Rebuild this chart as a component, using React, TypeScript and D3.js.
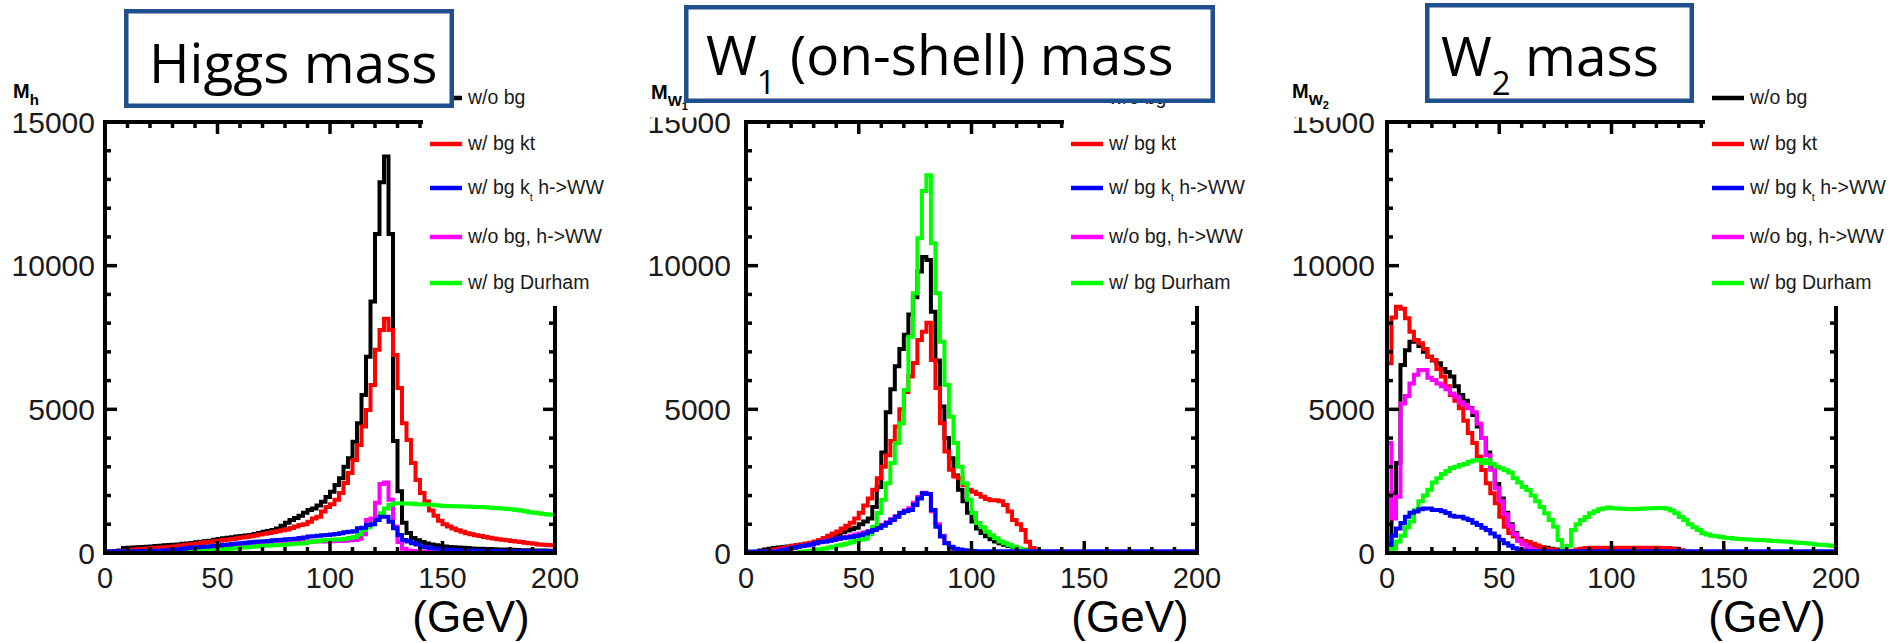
import React from 'react';
import * as d3 from 'd3';

// ---------- data (2 GeV bins from 0 to 200 GeV) ----------
const BIN_WIDTH = 2;
const massTicks = [0, 50, 100, 150, 200];
const countTicks = [0, 5000, 10000, 15000];
const legendLabels = ['w/o bg', 'w/ bg kt', 'w/ bg k_t h->WW', 'w/o bg, h->WW', 'w/ bg Durham'];
const seriesColors = ['#000000', '#ff0000', '#0000ff', '#ff00ff', '#00ff00'];
const panelTitles = ['Higgs mass', 'W_1 (on-shell) mass', 'W_2 mass'];
const axisTitles = ['M_h', 'M_W1', 'M_W2'];
const unitLabel = '(GeV)';

// Higgs mass
const higgsNoBg = [
  20, 40, 60, 90, 170, 180, 190, 200, 210, 220,
  230, 240, 250, 270, 280, 290, 300, 320, 330, 350,
  370, 390, 410, 430, 460, 490, 510, 530, 550, 570,
  590, 610, 630, 660, 700, 740, 770, 800, 850, 950,
  1050, 1150, 1220, 1300, 1400, 1500, 1550, 1650, 1780, 1950,
  2130, 2370, 2600, 3000, 3300, 3875, 4515, 5500, 6830, 8750,
  11100, 12900, 13800, 11100, 3900, 2150, 1050, 700, 520, 440,
  380, 330, 300, 270, 250, 230, 210, 200, 190, 180,
  170, 160, 150, 145, 140, 135, 130, 125, 120, 115,
  110, 105, 100, 100, 95, 90, 90, 85, 80, 80,
];
const higgsKt = [
  10, 20, 40, 60, 80, 100, 120, 130, 145, 160,
  170, 180, 190, 200, 215, 230, 250, 270, 290, 310,
  330, 350, 370, 390, 410, 430, 450, 470, 490, 515,
  540, 560, 580, 610, 640, 670, 700, 730, 760, 790,
  820, 870, 920, 975, 1000, 1090, 1200, 1260, 1440, 1600,
  1700, 1850, 2090, 2440, 2780, 3240, 3760, 4400, 4980, 5850,
  7070, 7760, 8150, 7760, 6890, 5740, 4520, 3930, 3130, 2540,
  2090, 1790, 1480, 1300, 1120, 1000, 920, 850, 790, 740,
  690, 650, 620, 590, 560, 530, 505, 480, 460, 440,
  420, 400, 380, 360, 340, 320, 300, 290, 280, 270,
];
const higgsKtWW = [
  60, 60, 60, 60, 60, 60, 65, 65, 70, 70,
  75, 80, 85, 90, 100, 110, 130, 150, 170, 190,
  200, 210, 220, 235, 250, 260, 280, 300, 310, 330,
  340, 360, 370, 390, 400, 410, 420, 440, 450, 460,
  480, 490, 500, 520, 540, 570, 580, 600, 620, 630,
  640, 660, 690, 720, 740, 760, 860, 880, 975, 1000,
  1150, 1260, 1260, 1090, 860, 630, 450, 400, 340, 300,
  220, 200, 170, 160, 150, 120, 110, 100, 95, 90,
  85, 80, 80, 75, 75, 70, 70, 70, 65, 65,
  65, 60, 60, 60, 60, 60, 60, 60, 60, 60,
];
const higgsNoBgWW = [
  0, 0, 0, 0, 0, 0, 0, 0, 0, 0,
  10, 20, 40, 60, 80, 100, 110, 120, 130, 140,
  150, 160, 170, 180, 190, 200, 210, 220, 230, 240,
  250, 260, 270, 280, 290, 300, 310, 320, 330, 340,
  350, 360, 370, 380, 380, 390, 400, 400, 400, 410,
  410, 420, 420, 430, 440, 450, 500, 650, 1150, 1200,
  1750, 2400, 2450, 1850, 920, 380, 150, 90, 70, 60,
  50, 40, 30, 25, 20, 15, 10, 5, 0, 0,
  0, 0, 0, 0, 0, 0, 0, 0, 0, 0,
  0, 0, 0, 0, 0, 0, 0, 0, 0, 0,
];
const higgsDurham = [
  0, 0, 0, 0, 0, 0, 0, 0, 0, 0,
  0, 0, 0, 0, 0, 0, 0, 10, 20, 40,
  60, 80, 100, 110, 120, 130, 140, 150, 160, 180,
  190, 200, 220, 230, 240, 250, 260, 270, 280, 290,
  300, 310, 320, 330, 350, 380, 400, 420, 440, 450,
  460, 470, 480, 500, 520, 560, 650, 800, 900, 1000,
  1150, 1380, 1550, 1680, 1730, 1730, 1720, 1720, 1710, 1700,
  1700, 1690, 1680, 1660, 1650, 1640, 1640, 1630, 1630, 1620,
  1620, 1610, 1600, 1600, 1590, 1580, 1570, 1560, 1550, 1530,
  1520, 1500, 1480, 1450, 1420, 1400, 1380, 1360, 1340, 1330,
];

// W1 (on-shell) mass
const w1NoBg = [
  0, 0, 40, 90, 120, 150, 170, 190, 210, 230,
  250, 270, 290, 310, 330, 360, 390, 430, 480, 560,
  640, 720, 780, 830, 880, 1000, 1100, 1200, 1600, 2300,
  3500, 4900, 5700, 6500, 7100, 7600, 8300, 8900, 9800, 10300,
  10200, 8400, 6700, 5100, 4000, 3300, 2700, 2200, 1800, 1400,
  1100, 850, 700, 580, 480, 400, 340, 290, 240, 200,
  150, 110, 80, 50, 30, 15, 0, 0, 0, 0,
  0, 0, 0, 0, 0, 0, 0, 0, 0, 0,
  0, 0, 0, 0, 0, 0, 0, 0, 0, 0,
  0, 0, 0, 0, 0, 0, 0, 0, 0, 0,
];
const w1Kt = [
  0, 0, 0, 30, 60, 90, 120, 150, 180, 210,
  240, 270, 300, 330, 360, 400, 450, 520, 600, 680,
  750, 850, 950, 1050, 1200, 1400, 1650, 1900, 2200, 2600,
  3000, 3400, 3900, 4400, 5000, 5600, 6140, 6610, 7410, 7700,
  8010, 6720, 5740, 4520, 3530, 2900, 2660, 2600, 2370, 2200,
  2130, 2050, 1960, 1880, 1840, 1840, 1800, 1670, 1440, 1150,
  1000, 800, 390, 170, 60, 0, 0, 0, 0, 0,
  0, 0, 0, 0, 0, 0, 0, 0, 0, 0,
  0, 0, 0, 0, 0, 0, 0, 0, 0, 0,
  0, 0, 0, 0, 0, 0, 0, 0, 0, 0,
];
const w1KtWW = [
  50, 50, 50, 50, 50, 50, 50, 80, 110, 150,
  180, 210, 240, 270, 300, 340, 380, 400, 430, 460,
  500, 520, 540, 560, 590, 630, 680, 740, 800, 870,
  950, 1040, 1150, 1260, 1390, 1450, 1500, 1670, 1900, 2080,
  2050, 1500, 915, 570, 340, 220, 150, 120, 100, 80,
  70, 60, 60, 60, 60, 60, 60, 60, 60, 60,
  60, 60, 60, 60, 60, 60, 60, 60, 60, 60,
  60, 60, 60, 60, 60, 60, 60, 60, 60, 60,
  60, 60, 60, 60, 60, 60, 60, 60, 60, 60,
  60, 60, 60, 60, 60, 60, 60, 60, 60, 60,
];
const w1NoBgWW = [
  0, 0, 0, 0, 20, 40, 60, 80, 110, 140,
  170, 200, 240, 270, 300, 340, 370, 400, 430, 460,
  500, 530, 560, 600, 640, 680, 720, 770, 830, 900,
  980, 1070, 1180, 1280, 1400, 1480, 1560, 1750, 1950, 2100,
  2050, 1450, 1000, 600, 350, 200, 130, 90, 60, 40,
  30, 20, 10, 0, 0, 0, 0, 0, 0, 0,
  0, 0, 0, 0, 0, 0, 0, 0, 0, 0,
  0, 0, 0, 0, 0, 0, 0, 0, 0, 0,
  0, 0, 0, 0, 0, 0, 0, 0, 0, 0,
  0, 0, 0, 0, 0, 0, 0, 0, 0, 0,
];
const w1Durham = [
  0, 0, 0, 0, 0, 0, 0, 0, 0, 0,
  10, 20, 40, 60, 80, 100, 130, 160, 190, 220,
  260, 300, 330, 370, 420, 460, 500, 650, 910, 1390,
  1850, 2430, 3130, 3830, 4520, 5670, 7530, 9040, 10950, 12600,
  13150, 10780, 9040, 7350, 5850, 4740, 3830, 3000, 2430, 1850,
  1390, 1040, 900, 740, 620, 510, 400, 340, 280, 220,
  150, 100, 60, 30, 10, 0, 0, 0, 0, 0,
  0, 0, 0, 0, 0, 0, 0, 0, 0, 0,
  0, 0, 0, 0, 0, 0, 0, 0, 0, 0,
  0, 0, 0, 0, 0, 0, 0, 0, 0, 0,
];

// W2 mass
const w2NoBg = [
  0, 2080, 3130, 6540, 7060, 7350, 7400, 7200, 7000, 6830,
  6700, 6600, 6400, 6300, 6140, 5800, 5500, 5300, 5050, 4800,
  4400, 4000, 3500, 3000, 2400, 1900, 1400, 1000, 700, 500,
  350, 300, 250, 220, 200, 180, 150, 120, 100, 80,
  60, 50, 40, 40, 40, 40, 40, 40, 40, 40,
  40, 40, 40, 40, 40, 40, 40, 40, 40, 40,
  40, 40, 40, 40, 40, 30, 30, 30, 30, 30,
  30, 30, 30, 30, 30, 30, 30, 30, 30, 30,
  30, 30, 30, 30, 30, 30, 30, 30, 30, 30,
  30, 30, 30, 30, 30, 30, 30, 30, 30, 30,
];
const w2Kt = [
  6600, 8200, 8570, 8500, 8170, 7700, 7410, 7300, 7100, 6830,
  6720, 6400, 6140, 5800, 5500, 5300, 5040, 4600, 4180, 3830,
  3350, 2890, 2430, 2080, 1730, 1260, 915, 700, 570, 450,
  420, 380, 320, 260, 200, 150, 120, 100, 80, 60,
  60, 80, 120, 150, 170, 180, 180, 185, 185, 185,
  185, 185, 185, 185, 185, 185, 180, 180, 180, 180,
  180, 175, 170, 160, 150, 100, 60, 40, 30, 30,
  30, 30, 30, 30, 30, 30, 30, 30, 30, 30,
  30, 30, 30, 30, 30, 30, 30, 30, 30, 30,
  30, 30, 30, 30, 30, 30, 30, 30, 30, 30,
];
const w2KtWW = [
  300, 600, 850, 1040, 1260, 1400, 1440, 1520, 1550, 1550,
  1500, 1500, 1450, 1390, 1300, 1260, 1260, 1200, 1150, 1050,
  975, 880, 800, 680, 570, 450, 340, 250, 165, 120,
  80, 60, 60, 60, 60, 60, 60, 60, 60, 60,
  60, 60, 60, 60, 60, 60, 60, 60, 60, 60,
  60, 60, 60, 60, 60, 60, 60, 60, 60, 60,
  60, 60, 60, 60, 60, 60, 60, 60, 60, 60,
  60, 60, 60, 60, 60, 60, 60, 60, 60, 60,
  60, 60, 60, 60, 60, 60, 60, 60, 60, 60,
  60, 60, 60, 60, 60, 60, 60, 60, 60, 60,
];
const w2NoBgWW = [
  3830, 1200, 1960, 5200, 5460, 5900, 6200, 6370, 6370, 6100,
  6020, 5900, 5800, 5700, 5550, 5440, 5250, 5150, 5040, 4900,
  4500, 4000, 3400, 2900, 2250, 1800, 1350, 950, 650, 420,
  300, 200, 120, 60, 20, 0, 0, 0, 0, 0,
  0, 0, 0, 0, 0, 0, 0, 0, 0, 0,
  0, 0, 0, 0, 0, 0, 0, 0, 0, 0,
  0, 0, 0, 0, 0, 0, 0, 0, 0, 0,
  0, 0, 0, 0, 0, 0, 0, 0, 0, 0,
  0, 0, 0, 0, 0, 0, 0, 0, 0, 0,
  0, 0, 0, 0, 0, 0, 0, 0, 0, 0,
];
const w2Durham = [
  0, 150, 400, 600, 900, 1100, 1500, 1800, 2000, 2200,
  2450, 2600, 2750, 2850, 2960, 3000, 3060, 3100, 3180, 3220,
  3240, 3130, 3230, 3100, 3000, 2950, 2880, 2800, 2600, 2450,
  2300, 2190, 2000, 1800, 1600, 1380, 1150, 915, 450, 100,
  250, 800, 1000, 1150, 1250, 1380, 1450, 1520, 1560, 1580,
  1560, 1550, 1540, 1530, 1520, 1530, 1540, 1550, 1560, 1560,
  1570, 1570, 1540, 1480, 1380, 1250, 1150, 1000, 900, 800,
  690, 640, 600, 580, 560, 530, 520, 500, 490, 480,
  470, 460, 450, 450, 440, 430, 420, 410, 400, 390,
  370, 360, 350, 340, 320, 300, 290, 280, 260, 240,
];

// series in legend order: black, red, blue, magenta, green
const panelSeries = [
  [higgsNoBg, higgsKt, higgsKtWW, higgsNoBgWW, higgsDurham],
  [w1NoBg, w1Kt, w1KtWW, w1NoBgWW, w1Durham],
  [w2NoBg, w2Kt, w2KtWW, w2NoBgWW, w2Durham],
];
const drawOrder = [0, 1, 3, 4, 2];

// ---------- layout ----------
const W = 1889;
const H = 643;
const Y_TOP = 122;
const Y_BOT = 553;
const AXIS_FONT = '"Liberation Sans", Arial, sans-serif';
const TITLE_FONT = '"Open Sans", "Noto Sans", sans-serif';
const BOX_COLOR = '#1f4f8c';

const panels = [
  { x0: 105, x1: 555, labelGap: 10, unitX: 471, cover: null as null | number[],
    box: { x: 124, y: 9, w: 330, h: 99 }, titleX: 149, titleBase: 83,
    mX: 13, mBase: 98 },
  { x0: 746, x1: 1197, labelGap: 15, unitX: 1130, cover: [638, 699],
    box: { x: 684, y: 5, w: 531, h: 98 }, titleX: 706, titleBase: 75,
    mX: 651, mBase: 99 },
  { x0: 1387, x1: 1836, labelGap: 12, unitX: 1767, cover: [1282, 1342],
    box: { x: 1425, y: 3, w: 269, h: 100 }, titleX: 1441, titleBase: 76,
    mX: 1292, mBase: 98 },
];

const legendRowsY = [98, 144, 188, 237, 283];

function histPath(values: number[], x: d3.ScaleLinear<number, number>, y: d3.ScaleLinear<number, number>) {
  const pts: [number, number][] = [[x(0), y(0)]];
  values.forEach((v, i) => {
    pts.push([x(i * BIN_WIDTH), y(v)]);
    pts.push([x((i + 1) * BIN_WIDTH), y(v)]);
  });
  pts.push([x(values.length * BIN_WIDTH), y(0)]);
  return d3.line()(pts) || '';
}

function LegendText({ label, x, y }: { label: string; x: number; y: number }) {
  if (label.includes('k_t')) {
    const [a, b] = label.split('k_t');
    return (
      <text x={x} y={y} fontFamily={AXIS_FONT} fontSize={19.5} fill="#1a1a1a">
        {a}k<tspan fontSize={11} dy={7}>t</tspan><tspan dy={-7}>{b}</tspan>
      </text>
    );
  }
  return (
    <text x={x} y={y} fontFamily={AXIS_FONT} fontSize={19.5} fill="#1a1a1a">{label}</text>
  );
}

function Title({ t, x, y }: { t: string; x: number; y: number }) {
  if (t.includes('_')) {
    const m = t.match(/^(.*)_(\S)(.*)$/);
    if (m) {
      return (
        <text x={x} y={y} fontFamily={TITLE_FONT} fontSize={55} fill="#000">
          {m[1]}<tspan fontSize={33} dy={19}>{m[2]}</tspan><tspan dy={-19}>{m[3]}</tspan>
        </text>
      );
    }
  }
  return <text x={x} y={y} fontFamily={TITLE_FONT} fontSize={55} fill="#000">{t}</text>;
}

function AxisTitle({ t, x, y }: { t: string; x: number; y: number }) {
  const sub = t.slice(2);
  const main = sub[0];
  const subsub = sub.slice(1);
  return (
    <text x={x} y={y} fontFamily={AXIS_FONT} fontWeight="bold" fontSize={20} fill="#000">
      M<tspan fontSize={15} dy={7}>{main}</tspan>
      {subsub ? <tspan fontSize={11} dy={4}>{subsub}</tspan> : null}
    </text>
  );
}

export default function App() {
  const y = d3.scaleLinear().domain([0, 15000]).range([Y_BOT, Y_TOP]);
  const minorX = d3.range(0, 201, 10);
  const minorY = d3.range(0, 15001, 1000);

  return (
    <svg width={W} height={H} style={{ position: 'absolute', left: 0, top: 0, background: '#fff' }}>
      <rect x={0} y={0} width={W} height={H} fill="#fff" />
      <defs>
        {panels.map((p, pi) => (
          <clipPath id={`clip${pi}`} key={pi}>
            <rect x={p.x0} y={Y_TOP} width={p.x1 - p.x0} height={Y_BOT - Y_TOP + 2} />
          </clipPath>
        ))}
      </defs>
      {panels.map((p, pi) => {
        const x = d3.scaleLinear().domain([0, 200]).range([p.x0, p.x1]);
        const series = panelSeries[pi];
        const legX = p.x0 + 318;
        return (
          <g key={pi}>
            {/* histograms */}
            <g clipPath={`url(#clip${pi})`}>
              {drawOrder.map((si) => (
                <path key={si} d={histPath(series[si], x, y)} fill="none" stroke={seriesColors[si]}
                  strokeWidth={4} strokeLinejoin="miter" />
              ))}
            </g>
            {/* frame */}
            <rect x={p.x0} y={Y_TOP} width={p.x1 - p.x0} height={Y_BOT - Y_TOP} fill="none" stroke="#000" strokeWidth={4} />
            {/* x ticks */}
            {minorX.map((v) => {
              const len = v % 50 === 0 ? 12 : 6;
              return (
                <g key={`xt${v}`}>
                  <line x1={x(v)} x2={x(v)} y1={Y_BOT} y2={Y_BOT - len} stroke="#000" strokeWidth={3.5} />
                  <line x1={x(v)} x2={x(v)} y1={Y_TOP} y2={Y_TOP + len} stroke="#000" strokeWidth={3.5} />
                </g>
              );
            })}
            {/* y ticks */}
            {minorY.map((v) => {
              const len = v % 5000 === 0 ? 12 : 6;
              return (
                <g key={`yt${v}`}>
                  <line x1={p.x0} x2={p.x0 + len} y1={y(v)} y2={y(v)} stroke="#000" strokeWidth={3.5} />
                  <line x1={p.x1} x2={p.x1 - len} y1={y(v)} y2={y(v)} stroke="#000" strokeWidth={3.5} />
                </g>
              );
            })}
            {/* tick labels */}
            {massTicks.map((v) => (
              <text key={`xl${v}`} x={x(v)} y={588} textAnchor="middle" fontFamily={AXIS_FONT} fontSize={29} fill="#1a1a1a">{v}</text>
            ))}
            {countTicks.map((v) => (
              <text key={`yl${v}`} x={p.x0 - p.labelGap} y={y(v) + 10.5} textAnchor="end" fontFamily={AXIS_FONT} fontSize={30} fill="#1a1a1a">{v}</text>
            ))}
            {p.cover ? <rect x={p.cover[0]} y={100} width={p.cover[1] - p.cover[0]} height={17.5} fill="#fff" /> : null}
            <AxisTitle t={axisTitles[pi]} x={p.mX} y={p.mBase} />
            <text x={p.unitX} y={632} textAnchor="middle" fontFamily={AXIS_FONT} fontSize={44} fill="#000">{unitLabel}</text>
            {/* legend */}
            <rect x={legX} y={60} width={pi === 2 ? W - legX : 190} height={306 - 60} fill="#fff" />
            {legendLabels.map((lab, li) => (
              <g key={`lg${li}`}>
                <line x1={p.x0 + 325} x2={p.x0 + 357} y1={legendRowsY[li]} y2={legendRowsY[li]} stroke={seriesColors[li]} strokeWidth={4.5} />
                <LegendText label={lab} x={p.x0 + 363} y={legendRowsY[li] + 5.5} />
              </g>
            ))}
            {/* title box */}
            <rect x={p.box.x + 2.25} y={p.box.y + 2.25} width={p.box.w - 4.5} height={p.box.h - 4.5} fill="#fff" stroke={BOX_COLOR} strokeWidth={4.5} />
            <Title t={panelTitles[pi]} x={p.titleX} y={p.titleBase} />
          </g>
        );
      })}
    </svg>
  );
}
